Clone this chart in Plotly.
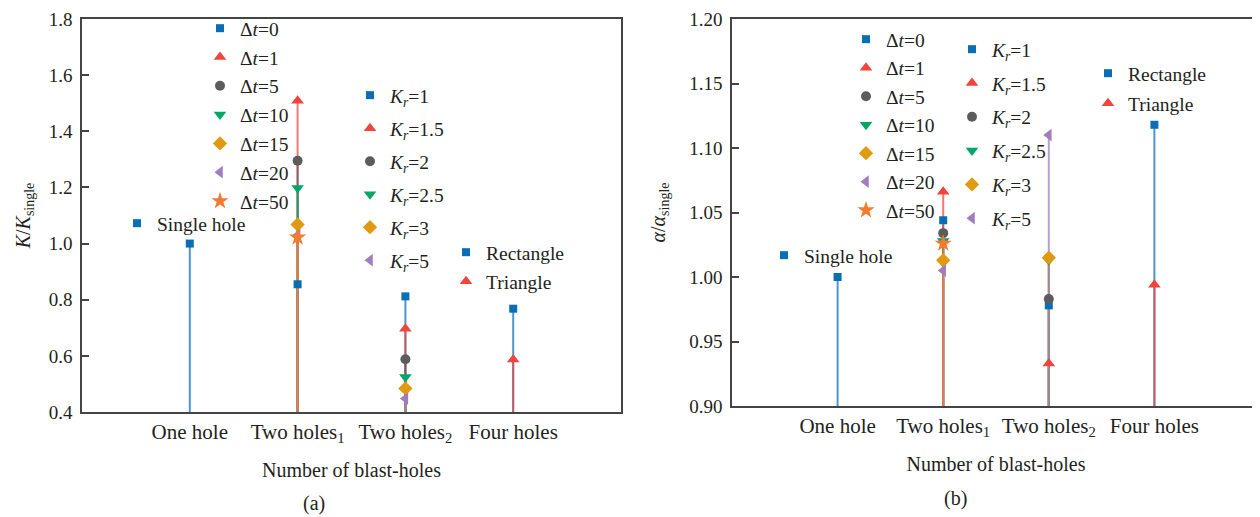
import plotly.graph_objects as go

# Figure drawn inside the page body (8 px default margin), so size it to fit the window.
W, H = 1252, 509
OFF = 8

categories = ["One hole", "Two holes<sub>1</sub>", "Two holes<sub>2</sub>", "Four holes"]

dt_names = ["Δ<i>t</i>=0", "Δ<i>t</i>=1", "Δ<i>t</i>=5", "Δ<i>t</i>=10", "Δ<i>t</i>=15", "Δ<i>t</i>=20", "Δ<i>t</i>=50"]
kr_names = ["<i>K</i><sub><i>r</i></sub>=1", "<i>K</i><sub><i>r</i></sub>=1.5", "<i>K</i><sub><i>r</i></sub>=2",
            "<i>K</i><sub><i>r</i></sub>=2.5", "<i>K</i><sub><i>r</i></sub>=3", "<i>K</i><sub><i>r</i></sub>=5"]
shape_names = ["Rectangle", "Triangle"]
single_name = "Single hole"

# Panel (a): K/K_single
a_single = 1.0
a_dt = [0.855, 1.509, 1.295, 1.198, 1.068, 1.030, 1.022]
a_kr = [0.812, 0.697, 0.588, 0.525, 0.484, 0.448]
a_shape = [0.768, 0.587]

# Panel (b): alpha/alpha_single
b_single = 1.0
b_dt = [1.044, 1.066, 1.034, 1.028, 1.013, 1.005, 1.026]
b_kr = [0.978, 0.933, 0.983, 1.013, 1.015, 1.110]
b_shape = [1.118, 0.994]

a_range = [0.4, 1.8]
b_range = [0.90, 1.20]

BLUE = "#0a6eb4"; RED = "#f0443c"; GRAY = "#5c5c5c"; GREEN = "#00a66a"
GOLD = "#e09a10"; PURPLE = "#a07cc0"; ORANGE = "#f47a30"
dt_colors = [BLUE, RED, GRAY, GREEN, GOLD, PURPLE, ORANGE]
dt_symbols = ["square", "triangle-up", "circle", "triangle-down", "diamond", "triangle-left", "star"]
dt_sizes = [8, 11, 10, 11, 11, 11, 13]
kr_colors = dt_colors[:6]
kr_symbols = dt_symbols[:6]
kr_sizes = dt_sizes[:6]
shape_colors = [BLUE, RED]
shape_symbols = ["square", "triangle-up"]
shape_sizes = [8, 11]

FONT = "Liberation Serif"
TXT = "#231f20"
LEG_SIZE = 19.5
YTICK_SIZE = 19
XTICK_SIZE = 21
TITLE_SIZE = 20


def rgba(hexc, a):
    h = hexc.lstrip("#")
    r, g, b = int(h[0:2], 16), int(h[2:4], 16), int(h[4:6], 16)
    return f"rgba({r},{g},{b},{a})"


fig = go.Figure()


def add_panel(xa, ya, lg, single, dt, kr, shape, base):
    groups = [
        (categories[0], [single], [BLUE], ["square"], [8], [single_name], lg[0]),
        (categories[1], dt, dt_colors, dt_symbols, dt_sizes, dt_names, lg[1]),
        (categories[2], kr, kr_colors, kr_symbols, kr_sizes, kr_names, lg[2]),
        (categories[3], shape, shape_colors, shape_symbols, shape_sizes, shape_names, lg[3]),
    ]
    # stems first
    for cat, vals, cols, syms, sizes, names, leg in groups:
        for v, c in zip(vals, cols):
            fig.add_trace(go.Scatter(x=[cat, cat], y=[base, v], mode="lines",
                                     line=dict(color=rgba(c, 0.72), width=2),
                                     showlegend=False, hoverinfo="skip",
                                     xaxis=xa, yaxis=ya))
    # markers
    for cat, vals, cols, syms, sizes, names, leg in groups:
        for i, (v, c, s, sz, n) in enumerate(zip(vals, cols, syms, sizes, names)):
            fig.add_trace(go.Scatter(x=[cat], y=[v], mode="markers", name=n,
                                     marker=dict(color=c, symbol=s, size=sz, line=dict(width=0)),
                                     legend=leg, legendgroup=f"{leg}_{i}",
                                     xaxis=xa, yaxis=ya))


add_panel("x", "y", ["legend", "legend2", "legend3", "legend4"], a_single, a_dt, a_kr, a_shape, a_range[0])
add_panel("x2", "y2", ["legend5", "legend6", "legend7", "legend8"], b_single, b_dt, b_kr, b_shape, b_range[0])


def px_x(x):
    return (x - OFF) / W


def px_y(y):
    return 1 - (y - OFF) / H


def leg(mx, my, gap):
    top = max(my - 20, OFF + 0.5)
    return dict(x=px_x(mx - 20), y=px_y(top), xanchor="left", yanchor="top",
                bgcolor="rgba(0,0,0,0)", borderwidth=0, traceorder="grouped",
                tracegroupgap=gap, font=dict(family=FONT, size=LEG_SIZE, color=TXT),
                itemclick=False, itemdoubleclick=False)


axis_common = dict(showgrid=False, zeroline=False, showline=True, linecolor="#444",
                   linewidth=1.5, ticks="inside", ticklen=7, tickcolor="#444", tickwidth=1.5,
                   automargin=False, ticklabeloverflow="allow", ticklabelstandoff=4,
                   tickfont=dict(family=FONT, size=YTICK_SIZE, color=TXT))
xaxis_common = dict(showgrid=False, zeroline=False, showline=True, linecolor="#444",
                    linewidth=1.5, ticks="", mirror=True, type="category",
                    categoryorder="array", categoryarray=categories, automargin=False,
                    ticklabeloverflow="allow",
                    tickfont=dict(family=FONT, size=XTICK_SIZE, color=TXT),
                    title=dict(text="Number of blast-holes", font=dict(family=FONT, size=TITLE_SIZE, color=TXT), standoff=18))

TOP = 19

fig.update_layout(
    width=W, height=H, margin=dict(l=0, r=0, t=0, b=0, autoexpand=False),
    paper_bgcolor="white", plot_bgcolor="white",
    font=dict(family=FONT, size=18, color=TXT),
    xaxis=dict(domain=[px_x(82), px_x(621)], range=[-1, 4], anchor="y", **xaxis_common),
    yaxis=dict(domain=[px_y(412), px_y(TOP)], range=a_range, dtick=0.2, tickformat=".1f",
               anchor="x", mirror=True,
               title=dict(text="<i>K</i>/<i>K</i><sub>single</sub>", font=dict(family=FONT, size=TITLE_SIZE, color=TXT), standoff=13),
               **axis_common),
    xaxis2=dict(domain=[px_x(732), 1.0], range=[-1, 4], anchor="y2", **xaxis_common),
    yaxis2=dict(domain=[px_y(406), px_y(TOP)], range=b_range, dtick=0.05, tickformat=".2f",
                anchor="x2", mirror=False,
                title=dict(text="<i>α</i>/<i>α</i><sub>single</sub>", font=dict(family=FONT, size=TITLE_SIZE, color=TXT), standoff=18),
                **axis_common),
    legend=leg(137, 224, 0),
    legend2=leg(220, 29, 0.45),
    legend3=leg(370, 96, 4.65),
    legend4=leg(466, 253, 0.65),
    legend5=leg(784, 256, 0),
    legend6=leg(866, 40, 0.15),
    legend7=leg(972, 50, 5.45),
    legend8=leg(1108, 74, 1.65),
    annotations=[
        dict(text="(a)", x=px_x(314), y=px_y(503), xref="paper", yref="paper", showarrow=False,
             xanchor="center", yanchor="middle", font=dict(family=FONT, size=TITLE_SIZE, color=TXT)),
        dict(text="(b)", x=px_x(955), y=px_y(498), xref="paper", yref="paper", showarrow=False,
             xanchor="center", yanchor="middle", font=dict(family=FONT, size=TITLE_SIZE, color=TXT)),
    ],
)

fig.write_html("out.html")
